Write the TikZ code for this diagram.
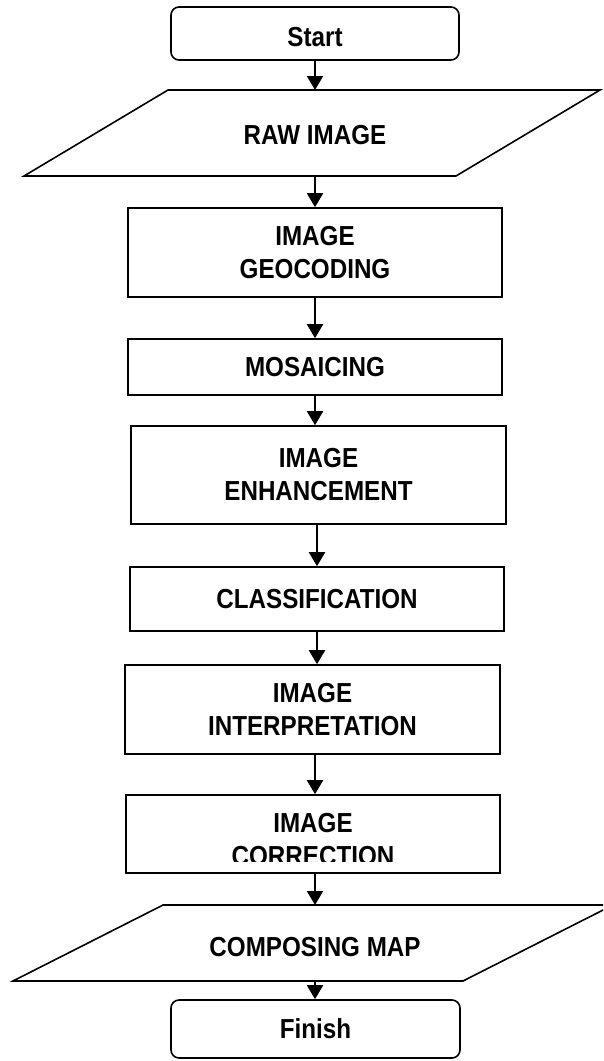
\documentclass[tikz,border=0pt]{standalone}
\usepackage{fontspec}
\setmainfont[FakeStretch=0.88]{Liberation Sans}
\usetikzlibrary{arrows.meta}
\begin{document}
\begin{tikzpicture}[x=1pt,y=-1pt,
  lbl/.style={font=\bfseries\fontsize{27.5}{33}\selectfont,align=center,inner sep=0pt},
  box/.style={lbl,draw,line width=1.6pt,rectangle},
  term/.style={box,rounded corners=8pt},
  io/.style={draw,line width=1.6pt,line join=miter},
  arr/.style={line width=2pt,-{Triangle[width=16pt,length=14pt]}}
]
\clip (0,0) rectangle (603,1061);
\fill[white] (0,0) rectangle (603,1061);

% terminals and boxes
\node[term,minimum width=288pt,minimum height=53pt,text height=27pt] (start) at (315,33.5) {Start};
\node[box,minimum width=374pt,minimum height=89pt] (geo) at (315,252.5) {IMAGE\\GEOCODING};
\node[box,minimum width=374pt,minimum height=56pt] (mos) at (315,367) {MOSAICING};
\node[box,minimum width=375pt,minimum height=98pt] (enh) at (318.5,475) {IMAGE\\ENHANCEMENT};
\node[box,minimum width=374pt,minimum height=64pt] (cla) at (317,599) {CLASSIFICATION};
\node[box,minimum width=375pt,minimum height=89pt] (int) at (312.5,709.5) {IMAGE\\INTERPRETATION};
\node[box,minimum width=374pt,minimum height=78pt] (cor) at (313,834) {};
\begin{scope}
  \clip (126,795) rectangle (500,861);
  \node[lbl] (cortext) at (313,839.5) {IMAGE\\CORRECTION};
\end{scope}
\node[term,minimum width=289pt,minimum height=58pt] (finish) at (315.5,1029) {Finish};

% input/output parallelograms
\draw[io] (168,90) -- (600,90) -- (456,176) -- (24,176) -- cycle;
\node[lbl] (raw) at (315,135) {RAW IMAGE};
\coordinate (rawT) at (315,90);
\coordinate (rawB) at (315,176);

\draw[io] (163,905) -- (613,905) -- (463,981) -- (13,981) -- cycle;
\node[lbl] (comp) at (315,947) {COMPOSING MAP};
\coordinate (compT) at (315,905);
\coordinate (compB) at (315,981);

% connectors
\draw[arr] (start.south -| rawT) -- (rawT);
\draw[arr] (rawB) -- (rawB |- geo.north);
\draw[arr] (geo.south -| rawT) -- (mos.north -| rawT);
\draw[arr] (mos.south -| rawT) -- (enh.north -| rawT);
\draw[arr] (enh.south -| cla.north) -- (cla.north);
\draw[arr] (cla.south) -- (cla.south |- int.north);
\draw[arr] (int.south -| rawT) -- (cor.north -| rawT);
\draw[arr] (cor.south -| compT) -- (compT);
\draw[arr] (compB) -- (compB |- finish.north);
\end{tikzpicture}
\end{document}
